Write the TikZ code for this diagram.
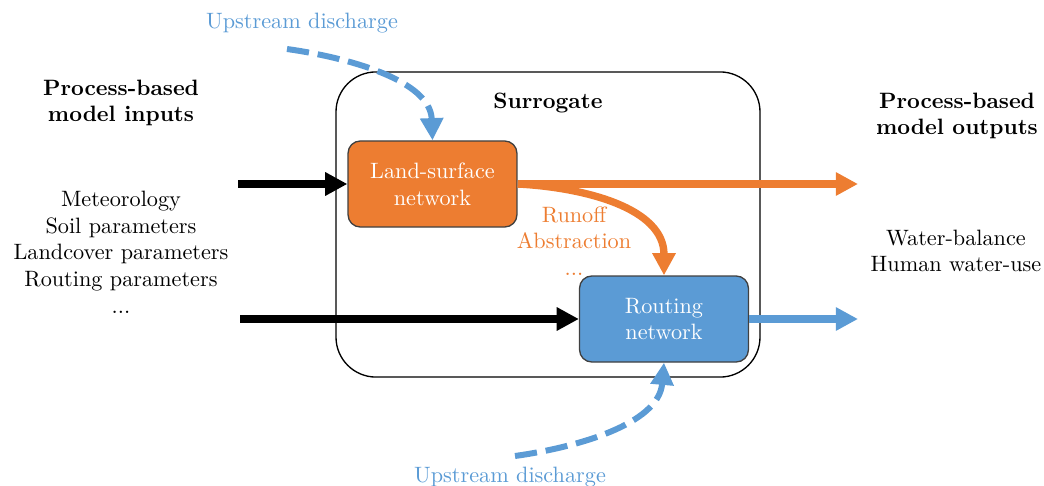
\documentclass[tikz,border=0pt]{standalone}
\usetikzlibrary{arrows.meta}
\definecolor{myorange}{HTML}{ED7D31}
\definecolor{myblue}{HTML}{5B9BD5}
\begin{document}
\begin{tikzpicture}[x=0.45pt,y=-0.45pt,
  netbox/.style={draw=black!75, line width=0.6pt, rounded corners=5.5pt, text=white,
    minimum width=76pt, minimum height=38.7pt, align=center, inner sep=0pt},
  txt/.style={align=center, inner sep=0pt},
  flow/.style={line width=3.3pt, -{Triangle[length=10pt,width=10pt]}},
  dashflow/.style={line width=2.7pt, dash pattern=on 10pt off 4pt, -{Triangle[length=10pt,width=10pt]}},
]
\useasboundingbox (0,0) rectangle (1044,486);
% surrogate box
\node[draw=black, line width=0.6pt, rounded corners=18pt, minimum width=190.8pt, minimum height=137.3pt, inner sep=0pt] (sur) at (548,224.5) {};
\node[txt, font=\bfseries] (surl) at (548,103) {Surrogate};
% networks
\node[netbox, fill=myorange] (land) at (432.5,184) {Land-surface\\network};
\node[netbox, fill=myblue] (rout) at (664,319) {Routing\\network};
% texts
\node[txt, font=\bfseries] (inh) at (121,103) {Process-based\\model inputs};
\node[txt, font=\bfseries] (outh) at (957,116) {Process-based\\model outputs};
\node[txt] (inl) at (121,252) {Meteorology\\Soil parameters\\Landcover parameters\\Routing parameters\\...};
\node[txt] (outl) at (956,251) {Water-balance\\Human water-use};
\node[txt, text=myorange] (mid) at (574,241) {Runoff\\Abstraction\\...};
\node[txt, text=myblue] (up1) at (302,23) {Upstream discharge};
\node[txt, text=myblue] (up2) at (510,477) {Upstream discharge};
% coordinates
\coordinate (in1) at (238,184);
\coordinate (in2) at (240,319);
\coordinate (o1) at (858,184);
\coordinate (o2) at (858,319);
\coordinate (d1) at (287,49);
\coordinate (d2) at (515,456);
% arrows
\draw[flow, black] (in1) -- (land.west);
\draw[flow, black] (in2) -- (rout.west);
\draw[flow, myorange] (land.east) -- (o1);
\draw[flow, myorange] (land.east) to[out=-3, in=90] (rout.north);
\draw[flow, myblue] (rout.east) -- (o2);
\draw[dashflow, myblue] (d1) to[out=-8, in=92, looseness=0.9] (land.north);
\draw[dashflow, myblue] (d2) to[out=8, in=-95, looseness=0.9] (rout.south);
\end{tikzpicture}
\end{document}
